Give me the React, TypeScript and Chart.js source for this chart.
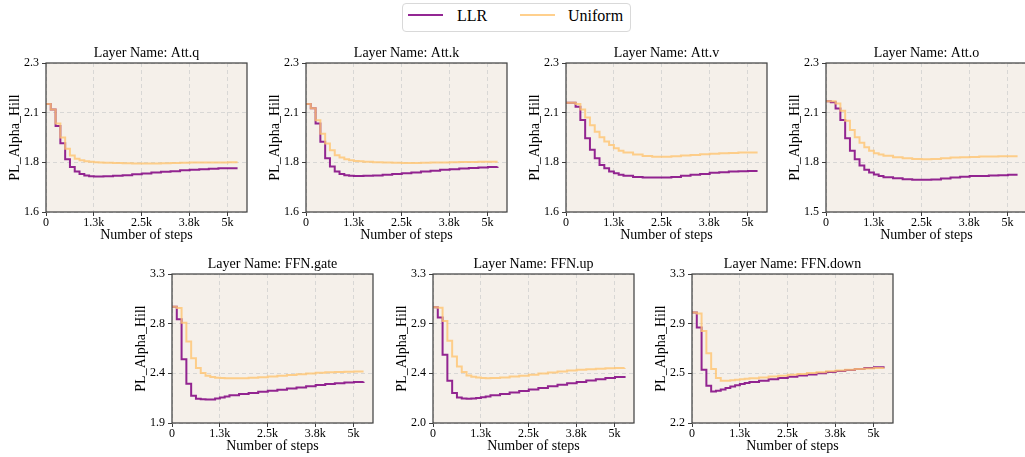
import React, { useEffect, useRef } from "react";
import { Chart, registerables } from "chart.js";

Chart.register(...registerables);

// ---------- data ----------
const STEPS = [
  0, 132, 264, 396, 528, 660, 792, 924, 1056, 1188, 1320, 1452, 1584,
  1848, 2112, 2376, 2640, 2904, 3168, 3432, 3696, 3960, 4224, 4488, 4752, 5016, 5280,
];

const X_TICK_VALUES = [0, 1316, 2632, 3948, 5000];
const X_TICK_LABELS = ["0", "1.3k", "2.5k", "3.8k", "5k"];
const X_MAX = 5540;

const ATTQ_LLR = [2.107, 2.082, 2.004, 1.923, 1.848, 1.811, 1.79, 1.779, 1.771, 1.768, 1.767, 1.767, 1.768, 1.77, 1.773, 1.777, 1.781, 1.785, 1.789, 1.792, 1.796, 1.799, 1.801, 1.803, 1.805, 1.806, 1.806];
const ATTQ_UNI = [2.107, 2.082, 2.016, 1.95, 1.897, 1.865, 1.85, 1.843, 1.839, 1.836, 1.834, 1.832, 1.831, 1.83, 1.829, 1.828, 1.828, 1.828, 1.829, 1.83, 1.831, 1.832, 1.832, 1.833, 1.833, 1.834, 1.834];

const ATTK_LLR = [2.107, 2.087, 2.016, 1.93, 1.853, 1.814, 1.79, 1.779, 1.773, 1.77, 1.769, 1.769, 1.77, 1.772, 1.775, 1.778, 1.782, 1.786, 1.79, 1.794, 1.798, 1.801, 1.804, 1.807, 1.809, 1.811, 1.812];
const ATTK_UNI = [2.107, 2.087, 2.031, 1.968, 1.922, 1.89, 1.867, 1.856, 1.848, 1.843, 1.84, 1.838, 1.836, 1.834, 1.832, 1.831, 1.83, 1.83, 1.831, 1.832, 1.833, 1.834, 1.835, 1.835, 1.836, 1.836, 1.836];

const ATTV_LLR = [2.113, 2.113, 2.094, 2.032, 1.946, 1.892, 1.853, 1.821, 1.806, 1.79, 1.782, 1.775, 1.77, 1.765, 1.762, 1.762, 1.762, 1.765, 1.77, 1.775, 1.779, 1.784, 1.787, 1.79, 1.792, 1.793, 1.793];
const ATTV_UNI = [2.113, 2.113, 2.107, 2.082, 2.044, 2.008, 1.977, 1.951, 1.931, 1.915, 1.899, 1.888, 1.879, 1.87, 1.863, 1.86, 1.86, 1.862, 1.865, 1.868, 1.871, 1.874, 1.876, 1.877, 1.879, 1.88, 1.88];

const ATTO_LLR = [2.13, 2.125, 2.092, 2.031, 1.936, 1.87, 1.826, 1.793, 1.771, 1.757, 1.746, 1.739, 1.732, 1.727, 1.722, 1.719, 1.719, 1.72, 1.726, 1.731, 1.734, 1.738, 1.739, 1.741, 1.743, 1.745, 1.745];
const ATTO_UNI = [2.13, 2.13, 2.118, 2.08, 2.028, 1.979, 1.941, 1.913, 1.889, 1.871, 1.858, 1.851, 1.844, 1.837, 1.831, 1.828, 1.826, 1.828, 1.831, 1.835, 1.837, 1.838, 1.84, 1.84, 1.842, 1.842, 1.842];

const GATE_LLR = [2.993, 2.875, 2.5, 2.269, 2.156, 2.128, 2.122, 2.12, 2.121, 2.13, 2.14, 2.15, 2.16, 2.172, 2.183, 2.193, 2.203, 2.213, 2.224, 2.234, 2.245, 2.256, 2.266, 2.274, 2.28, 2.285, 2.287];
const GATE_UNI = [2.993, 2.98, 2.843, 2.665, 2.509, 2.416, 2.369, 2.344, 2.333, 2.326, 2.322, 2.32, 2.32, 2.321, 2.324, 2.33, 2.338, 2.345, 2.352, 2.359, 2.365, 2.371, 2.376, 2.379, 2.382, 2.384, 2.384];

const UP_LLR = [3.01, 2.92, 2.595, 2.368, 2.261, 2.223, 2.214, 2.212, 2.213, 2.218, 2.225, 2.232, 2.242, 2.254, 2.266, 2.28, 2.293, 2.306, 2.32, 2.333, 2.346, 2.358, 2.37, 2.382, 2.392, 2.402, 2.41];
const UP_UNI = [3.01, 3.005, 2.891, 2.717, 2.58, 2.493, 2.444, 2.415, 2.403, 2.396, 2.392, 2.391, 2.393, 2.397, 2.405, 2.413, 2.422, 2.431, 2.441, 2.45, 2.458, 2.465, 2.47, 2.474, 2.477, 2.479, 2.48];

const DOWN_LLR = [3.002, 2.887, 2.561, 2.437, 2.394, 2.398, 2.408, 2.42, 2.432, 2.442, 2.451, 2.459, 2.467, 2.477, 2.487, 2.497, 2.507, 2.516, 2.525, 2.534, 2.543, 2.552, 2.56, 2.567, 2.574, 2.581, 2.588];
const DOWN_UNI = [3.002, 2.995, 2.861, 2.689, 2.566, 2.497, 2.476, 2.477, 2.48, 2.484, 2.488, 2.492, 2.496, 2.502, 2.508, 2.515, 2.522, 2.529, 2.536, 2.542, 2.549, 2.555, 2.561, 2.566, 2.57, 2.574, 2.578];

const Y_LABELS_ATT = ["1.6", "1.8", "2.1", "2.3"];
const Y_LABELS_ATTO = ["1.5", "1.8", "2.1", "2.3"];
const Y_LABELS_GATE = ["1.9", "2.4", "2.8", "3.3"];
const Y_LABELS_UP = ["2.0", "2.4", "2.9", "3.3"];
const Y_LABELS_DOWN = ["2.2", "2.5", "2.9", "3.3"];

const TITLES = [
  "Layer Name: Att.q",
  "Layer Name: Att.k",
  "Layer Name: Att.v",
  "Layer Name: Att.o",
  "Layer Name: FFN.gate",
  "Layer Name: FFN.up",
  "Layer Name: FFN.down",
];

const PANELS = [
  { title: TITLES[0], llr: ATTQ_LLR, uni: ATTQ_UNI, yMin: 1.6, yMax: 2.3, yLabels: Y_LABELS_ATT },
  { title: TITLES[1], llr: ATTK_LLR, uni: ATTK_UNI, yMin: 1.6, yMax: 2.3, yLabels: Y_LABELS_ATT },
  { title: TITLES[2], llr: ATTV_LLR, uni: ATTV_UNI, yMin: 1.6, yMax: 2.3, yLabels: Y_LABELS_ATT },
  { title: TITLES[3], llr: ATTO_LLR, uni: ATTO_UNI, yMin: 1.55, yMax: 2.33, yLabels: Y_LABELS_ATTO },
  { title: TITLES[4], llr: GATE_LLR, uni: GATE_UNI, yMin: 1.9, yMax: 3.3, yLabels: Y_LABELS_GATE },
  { title: TITLES[5], llr: UP_LLR, uni: UP_UNI, yMin: 2.0, yMax: 3.3, yLabels: Y_LABELS_UP },
  { title: TITLES[6], llr: DOWN_LLR, uni: DOWN_UNI, yMin: 2.15, yMax: 3.3, yLabels: Y_LABELS_DOWN },
];

// ---------- layout / style ----------
const PLOT_LEFTS = [46, 306, 566, 826, 172, 433, 692];
const PLOT_TOPS = [63, 63, 63, 63, 274, 274, 274];
const PLOT_W = 201;
const PLOT_H = 149;
const Y_AXIS_W = 45;
const X_AXIS_H = 32;
const TITLE_H = 18;
const RIGHT_PAD = 10;

const FONT = "'Liberation Serif', 'Times New Roman', serif";
const PURPLE = "rgba(128, 0, 128, 0.85)";
const ORANGE = "rgba(255, 196, 112, 0.8)";
const BG = "#f5f0ea";
const GRID = "rgba(205, 205, 205, 0.9)";
const SPINE = "#3d3d3d";

const framePlugin = {
  id: "frame",
  beforeDraw(chart: any) {
    const { ctx, chartArea } = chart;
    ctx.save();
    ctx.fillStyle = BG;
    ctx.fillRect(chartArea.left, chartArea.top, chartArea.width, chartArea.height);
    ctx.restore();
  },
  afterDraw(chart: any) {
    const { ctx, chartArea } = chart;
    ctx.save();
    ctx.strokeStyle = SPINE;
    ctx.lineWidth = 1.2;
    ctx.strokeRect(chartArea.left, chartArea.top, chartArea.width, chartArea.height);
    ctx.restore();
  },
};

function Panel({ idx }: { idx: number }) {
  const ref = useRef<HTMLCanvasElement>(null);
  const p = PANELS[idx];
  const width = Y_AXIS_W + PLOT_W + RIGHT_PAD;
  const height = TITLE_H + PLOT_H + X_AXIS_H;

  useEffect(() => {
    const yr = p.yMax - p.yMin;
    const yTicks = [p.yMin, p.yMin + yr / 3, p.yMin + (2 * yr) / 3, p.yMax];
    const chart = new Chart(ref.current as HTMLCanvasElement, {
      type: "line",
      data: {
        datasets: [
          {
            label: "Uniform",
            data: STEPS.map((s, i) => ({ x: s, y: p.uni[i] })),
            borderColor: ORANGE,
            borderWidth: 2,
            pointRadius: 0,
            stepped: true,
            fill: false,
            order: 0,
          },
          {
            label: "LLR",
            data: STEPS.map((s, i) => ({ x: s, y: p.llr[i] })),
            borderColor: PURPLE,
            borderWidth: 2,
            pointRadius: 0,
            stepped: true,
            fill: false,
            order: 1,
          },
        ],
      },
      options: {
        animation: false,
        responsive: false,
        events: [],
        layout: { padding: { left: 0, right: RIGHT_PAD, top: 0, bottom: 0 } },
        plugins: {
          legend: { display: false },
          tooltip: { enabled: false },
          title: {
            display: true,
            text: p.title,
            color: "#000",
            fullSize: false,
            font: { family: FONT, size: 14, weight: "normal", lineHeight: "16px" },
            padding: { top: 0, bottom: 2 },
          },
        },
        scales: {
          x: {
            type: "linear",
            min: 0,
            max: X_MAX,
            afterBuildTicks: (s: any) => {
              s.ticks = X_TICK_VALUES.map((v) => ({ value: v }));
            },
            afterFit: (s: any) => {
              s.height = X_AXIS_H;
            },
            ticks: {
              autoSkip: false,
              maxRotation: 0,
              padding: 0,
              color: "#000",
              font: { family: FONT, size: 12 },
              callback: (_v: any, i: number) => X_TICK_LABELS[i],
            },
            grid: { color: GRID, lineWidth: 0.8, tickLength: 4, tickColor: SPINE, tickWidth: 1 },
            border: { display: false, dash: [4, 3] },
            title: {
              display: true,
              text: "Number of steps",
              color: "#000",
              font: { family: FONT, size: 14, lineHeight: "16px" },
              padding: { top: 0, bottom: 1 },
            },
          },
          y: {
            type: "linear",
            min: p.yMin,
            max: p.yMax,
            afterBuildTicks: (s: any) => {
              s.ticks = yTicks.map((v) => ({ value: v }));
            },
            afterFit: (s: any) => {
              s.width = Y_AXIS_W;
            },
            ticks: {
              autoSkip: false,
              padding: 3,
              color: "#000",
              font: { family: FONT, size: 12 },
              callback: (_v: any, i: number) => p.yLabels[i],
            },
            grid: { color: GRID, lineWidth: 0.8, tickLength: 4, tickColor: SPINE, tickWidth: 1 },
            border: { display: false, dash: [4, 3] },
            title: {
              display: true,
              text: "PL_Alpha_Hill",
              color: "#000",
              font: { family: FONT, size: 14, lineHeight: "16px" },
              padding: { top: 6, bottom: 0 },
            },
          },
        },
      },
      plugins: [framePlugin],
    } as any);
    return () => chart.destroy();
  }, []);

  return (
    <canvas
      ref={ref}
      width={width}
      height={height}
      style={{
        position: "absolute",
        left: PLOT_LEFTS[idx] - Y_AXIS_W,
        top: PLOT_TOPS[idx] - TITLE_H,
        width,
        height,
      }}
    />
  );
}

function Legend() {
  const text: React.CSSProperties = {
    position: "absolute",
    top: 4,
    fontFamily: FONT,
    fontSize: 16,
    lineHeight: "16px",
    color: "#000",
    whiteSpace: "nowrap",
  };
  return (
    <div
      style={{
        position: "absolute",
        left: 402,
        top: 3,
        width: 229,
        height: 29,
        boxSizing: "border-box",
        border: "1px solid #d9d9d9",
        borderRadius: 4,
        background: "#fff",
      }}
    >
      <div style={{ position: "absolute", left: 5, top: 10, width: 35, height: 2, background: PURPLE }} />
      <span style={{ ...text, left: 54 }}>LLR</span>
      <div style={{ position: "absolute", left: 117, top: 10, width: 35, height: 2, background: ORANGE }} />
      <span style={{ ...text, left: 165 }}>Uniform</span>
    </div>
  );
}

export default function App() {
  return (
    <div
      style={{
        position: "fixed",
        left: 0,
        top: 0,
        width: 1025,
        height: 457,
        overflow: "hidden",
        background: "#fff",
      }}
    >
      <Legend />
      {PANELS.map((_, i) => (
        <Panel key={i} idx={i} />
      ))}
    </div>
  );
}
